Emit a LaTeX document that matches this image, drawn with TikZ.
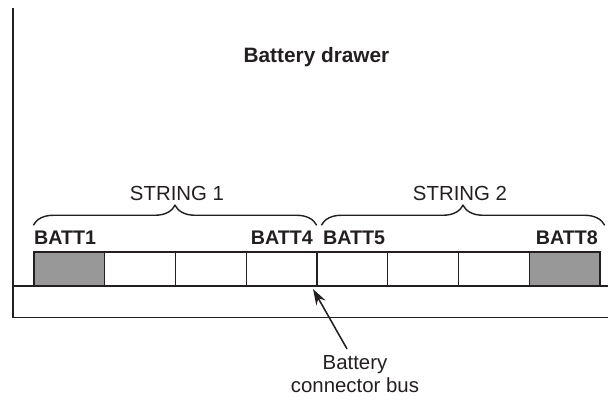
\documentclass[tikz,border=0pt]{standalone}
\usepackage{fontspec}
\setmainfont{Liberation Sans}
\usetikzlibrary{positioning, arrows.meta, decorations.pathreplacing}
\definecolor{battgray}{RGB}{152,152,152}
\definecolor{inkblack}{RGB}{35,31,32}

\begin{document}
\begin{tikzpicture}[x=0.025cm, y=0.025cm,
	line width=1.1pt, draw=inkblack, text=inkblack,
	batt/.style={shape=rectangle, draw=inkblack, line width=1pt, fill=white,
		minimum width=1.769cm, minimum height=0.85cm, inner sep=0pt},
	full/.style={batt, fill=battgray},
	battlabel/.style={font=\fontsize{14}{16}\selectfont\bfseries, inner sep=0pt},
	strlabel/.style={font=\fontsize{14.5}{16.5}\selectfont, inner sep=0pt},
	strbrace/.style={decorate, decoration={brace, amplitude=0.5cm}, line width=1pt},
	callout/.style={-{Stealth[length=0.4cm, width=0.26cm]}, line width=1.1pt}]
	\useasboundingbox (0, 0) rectangle (608, 400);
	% Drawer wall and connector bus:
	\draw (13, 392) |- (608, 82.5);
	\draw (13, 114) -- (608, 114);
	% Batteries:
	\node[full] (b1) at (69.4, 131){};
	\node[batt] (b2) at (140.1, 131){};
	\node[batt] (b3) at (210.9, 131){};
	\node[batt] (b4) at (281.6, 131){};
	\node[batt] (b5) at (352.4, 131){};
	\node[batt] (b6) at (423.1, 131){};
	\node[batt] (b7) at (493.9, 131){};
	\node[full] (b8) at (564.6, 131){};
	\node[battlabel, above right=0.14cm and 0cm of b1.north west] (l1) {BATT1};
	\node[battlabel, above left=0.14cm and 0.1cm of b4.north east] (l4) {BATT4};
	\node[battlabel, above right=0.14cm and 0.15cm of b5.north west] (l5) {BATT5};
	\node[battlabel, above left=0.14cm and 0.05cm of b8.north east] (l8) {BATT8};
	% Strings:
	\draw[strbrace] ([yshift=0.65cm]b1.north west) -- ([xshift=-0.025cm, yshift=0.65cm]b4.north east);
	\draw[strbrace] ([xshift=0.125cm, yshift=0.65cm]b5.north west) -- ([xshift=0.1cm, yshift=0.65cm]b8.north east);
	\node[strlabel] (s1) at (177, 207){STRING 1};
	\node[strlabel] (s2) at (460, 207){STRING 2};
	% Title and callout:
	\node[font=\fontsize{14.8}{17}\selectfont\bfseries] (drawer) at (316.5, 343){Battery drawer};
	\node[strlabel, align=center, inner sep=4pt] (bus) at (355, 26){Battery\\connector bus};
	\coordinate (bustip) at (313, 111);
	\draw[callout] ([xshift=-0.2cm]bus.north) -- (bustip);
\end{tikzpicture}
\end{document}
